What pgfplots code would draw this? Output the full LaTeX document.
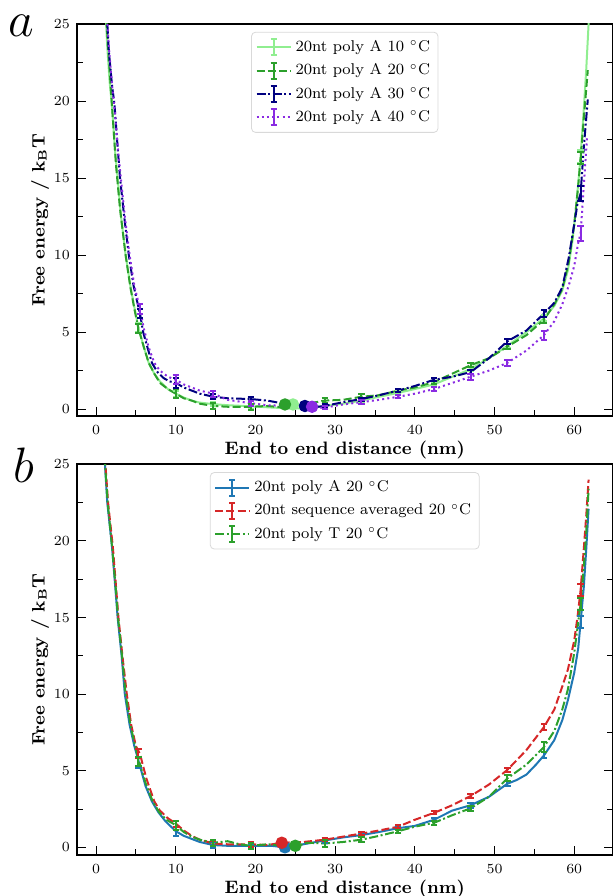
\documentclass[border=0pt]{standalone}
\usepackage{pgfplots}
\pgfplotsset{compat=1.18}

\definecolor{lgreen}{HTML}{90EE90}
\definecolor{tgreen}{HTML}{2CA02C}
\definecolor{tblue}{HTML}{1F77B4}
\definecolor{tred}{HTML}{D62728}
\definecolor{navy}{HTML}{000080}
\definecolor{bviolet}{HTML}{8A2BE2}

\pgfplotsset{
  fe/.style={
    scale only axis, width=267.75pt,
    xmin=-2.4, xmax=64.8, ymax=25,
    xtick={0,10,...,60}, minor xtick={5,15,...,55},
    ytick={0,5,...,25}, minor ytick={2.5,7.5,...,22.5},
    xtick pos=left, ytick pos=both,
    tick align=inside,
    major tick length=4.5pt, minor tick length=3pt,
    every tick/.style={black, line width=0.5pt},
    axis line style={line width=1pt},
    tick label style={font=\fontsize{6.7}{8}\selectfont},
    xticklabel style={yshift=-1pt},
    label style={font=\fontsize{9}{11}\selectfont\bfseries},
    xlabel={End to end distance (nm)},
    ylabel={Free energy / k\textsubscript{B}T},
    xlabel style={at={(axis description cs:0.5,-0.087)}, anchor=center},
    ylabel style={at={(axis description cs:-0.069,0.5)}, anchor=center},
    legend style={at={(0.5,0.98)}, anchor=north, draw=black!15, rounded corners=2pt,
      font=\fontsize{7.8}{9}\selectfont, row sep=0.6pt, inner sep=2pt},
    legend cell align=left,
    every axis plot/.append style={line width=1pt, line join=round},
  },
  ebleg/.style={legend image code/.code={
    \draw[##1] (0pt,0pt) -- (17pt,0pt);
    \draw[##1,solid] (8.5pt,-4pt) -- (8.5pt,4pt);
    \draw[##1,solid] (7pt,4pt) -- (10pt,4pt);
    \draw[##1,solid] (7pt,-4pt) -- (10pt,-4pt);}},
  eb/.style={forget plot, draw=none, mark=none,
    error bars/.cd, y dir=both, y explicit,
    error bar style={draw=#1, solid, line width=1pt},
    error mark options={draw=#1, rotate=90, mark size=1.6pt, solid, line width=1pt}},
  mdash/.style={dash pattern=on 4pt off 1.6pt},
  mdashdot/.style={dash pattern=on 4.5pt off 1.3pt on 1pt off 1.3pt},
  mdot/.style={dash pattern=on 1pt off 1.6pt},
}

\begin{document}
\begin{tikzpicture}
\useasboundingbox (0,0) rectangle (306.5pt,448pt);

\node[anchor=base west, inner sep=0pt, font=\fontsize{27}{30}\selectfont] at (4pt,429.5pt) {$a$};
\node[anchor=base west, inner sep=0pt, font=\fontsize{27}{30}\selectfont] at (6.5pt,206.5pt) {$b$};

% ---------------- panel a ----------------
\begin{axis}[fe, at={(38.5pt,240pt)}, anchor=south west, height=196pt, ymin=-0.45]
\addplot[lgreen, solid, ebleg] table {
x y
1.15 26
1.4 23.5
1.7 21.2
2.0 19.6
2.4 16.6
2.7 15.0
3.1 12.6
3.7 10.0
4.3 8.0
4.8 6.6
5.3 5.3
6.0 4.0
6.6 3.0
7.3 2.3
8.0 1.8
9.0 1.3
10.0 1.0
11.0 0.75
12.0 0.55
13.0 0.42
14.7 0.32
16.5 0.25
19.4 0.18
22.0 0.1
24.1 0.05
26.0 0.05
28.7 0.2
31.0 0.35
33.3 0.55
35.5 0.8
37.9 1.05
40.0 1.3
42.4 1.6
44.7 2.1
47.0 2.6
49.3 3.3
51.6 4.1
54.0 5.0
56.2 5.9
57.5 6.7
58.5 7.7
59.2 9.0
59.8 11.0
60.3 13.5
60.8 16.4
61.2 19.5
61.5 22.0
61.8 25.0
61.9 26
};
\addlegendentry{20nt poly A 10 $^{\circ}$C}
\addplot[tgreen, mdash, ebleg] table {
x y
1.2 26
1.5 23.5
2.0 19.6
2.5 15.8
3.0 13.0
3.7 10.0
4.3 7.9
4.8 6.5
5.3 5.25
6.0 4.0
6.6 3.0
7.3 2.3
8.0 1.7
9.0 1.3
10.0 1.0
11.0 0.7
12.0 0.55
13.0 0.35
14.7 0.2
16.5 0.15
19.4 0.15
21.5 0.2
23.7 0.1
25.0 0.1
26.0 0.3
28.7 0.55
31.0 0.6
33.3 0.8
35.5 0.9
37.9 1.2
40.0 1.4
42.4 1.75
44.7 2.3
47.0 2.85
49.3 3.3
51.6 4.05
54.0 4.8
56.2 5.8
57.5 6.8
58.5 7.8
59.3 9.5
60.0 12.0
60.5 14.5
60.8 16.3
61.3 19.5
61.7 22.0
};
\addlegendentry{20nt poly A 20 $^{\circ}$C}
\addplot[navy, mdashdot, ebleg] table {
x y
1.3 26
1.6 23.2
2.0 21.0
2.3 19.8
2.7 17.0
3.0 15.0
3.5 12.6
4.1 10.0
4.7 8.0
5.5 6.2
5.9 5.0
6.5 3.9
7.0 3.0
7.7 2.4
8.5 2.0
9.2 1.8
10.0 1.7
11.0 1.4
12.0 1.2
13.0 1.0
14.7 0.8
16.5 0.7
19.4 0.65
21.5 0.55
24.1 0.3
26.2 0.05
28.7 0.2
31.0 0.45
33.3 0.65
35.5 0.9
37.9 1.2
40.0 1.5
42.4 1.9
44.7 2.1
47.0 2.4
49.3 3.3
51.6 4.4
54.0 5.1
56.2 6.2
57.5 6.9
58.5 7.9
59.3 9.8
60.0 12.0
60.4 13.3
60.8 14.0
61.2 17.0
61.7 20.1
};
\addlegendentry{20nt poly A 30 $^{\circ}$C}
\addplot[bviolet, mdot, ebleg] table {
x y
1.3 26
1.6 23.5
2.0 21.0
2.4 19.0
2.8 16.5
3.1 15.0
3.6 12.5
4.2 10.0
4.8 8.0
5.5 6.5
6.0 5.2
6.6 4.0
7.3 3.0
8.0 2.5
9.0 2.1
10.0 1.9
11.0 1.6
12.0 1.4
13.0 1.2
14.7 1.0
16.5 0.6
19.4 0.38
21.5 0.25
24.1 0.2
27.1 0.05
28.7 0.1
31.0 0.3
33.3 0.45
35.5 0.6
37.9 0.8
40.0 1.0
42.4 1.3
44.7 1.7
47.0 2.1
49.3 2.5
51.6 3.0
54.0 3.8
56.2 4.8
57.5 5.7
58.5 6.8
59.3 8.0
60.0 9.3
60.5 10.8
60.8 11.4
61.2 14.5
61.6 17.6
};
\addlegendentry{20nt poly A 40 $^{\circ}$C}

\addplot[eb=lgreen] coordinates {
(5.3,5.3) +- (0,0.3) (10,1.0) +- (0,0.2) (14.7,0.32) +- (0,0.15) (19.4,0.18) +- (0,0.15)
(28.7,0.2) +- (0,0.1) (33.3,0.55) +- (0,0.1) (37.9,1.05) +- (0,0.1) (42.4,1.6) +- (0,0.1)
(47.0,2.6) +- (0,0.15) (51.6,4.1) +- (0,0.15) (56.2,5.9) +- (0,0.2) (60.8,16.4) +- (0,0.4)};
\addplot[eb=tgreen] coordinates {
(5.3,5.25) +- (0,0.3) (10,1.0) +- (0,0.3) (14.7,0.2) +- (0,0.2) (19.4,0.15) +- (0,0.2)
(28.7,0.55) +- (0,0.15) (33.3,0.8) +- (0,0.15) (37.9,1.2) +- (0,0.1) (42.4,1.75) +- (0,0.1)
(47.0,2.85) +- (0,0.15) (51.6,4.05) +- (0,0.15) (56.2,5.8) +- (0,0.2) (60.8,16.3) +- (0,0.4)};
\addplot[eb=navy] coordinates {
(5.5,6.2) +- (0,0.3) (10,1.7) +- (0,0.3) (14.7,0.8) +- (0,0.15) (19.4,0.65) +- (0,0.15)
(28.7,0.2) +- (0,0.1) (33.3,0.65) +- (0,0.1) (37.9,1.2) +- (0,0.1) (42.4,1.9) +- (0,0.1)
(47.0,2.4) +- (0,0.15) (51.6,4.4) +- (0,0.15) (56.2,6.2) +- (0,0.2) (60.8,14.0) +- (0,0.5)};
\addplot[eb=bviolet] coordinates {
(5.5,6.5) +- (0,0.3) (10,1.9) +- (0,0.3) (14.7,1.0) +- (0,0.2) (19.4,0.38) +- (0,0.15)
(28.7,0.1) +- (0,0.1) (33.3,0.45) +- (0,0.15) (37.9,0.8) +- (0,0.1) (42.4,1.3) +- (0,0.15)
(47.0,2.1) +- (0,0.2) (51.6,3.0) +- (0,0.2) (56.2,4.8) +- (0,0.3) (60.8,11.4) +- (0,0.5)};

\addplot[forget plot, only marks, mark=*, mark size=2.6pt, lgreen] coordinates {(24.7,0.3)};
\addplot[forget plot, only marks, mark=*, mark size=2.6pt, tgreen] coordinates {(23.7,0.3)};
\addplot[forget plot, only marks, mark=*, mark size=2.6pt, navy] coordinates {(26.2,0.2)};
\addplot[forget plot, only marks, mark=*, mark size=2.6pt, bviolet] coordinates {(27.1,0.15)};
\end{axis}

% ---------------- panel b ----------------
\begin{axis}[fe, at={(38.5pt,20.5pt)}, anchor=south west, height=195.35pt, ymin=-0.5]
\addplot[tblue, solid, ebleg] table {
x y
1.05 25.5
1.4 22.5
2.0 19.6
2.4 17.0
2.7 15.0
3.2 12.5
3.6 10.0
4.2 8.0
4.8 6.6
5.4 5.5
6.2 4.0
7.0 3.0
7.8 2.3
8.7 1.7
10.0 1.05
11.0 0.75
12.0 0.55
13.0 0.35
14.7 0.15
16.5 0.1
19.4 0.1
22.0 0.1
23.7 0.0
26.0 0.2
28.7 0.45
31.0 0.65
33.3 0.8
35.5 1.0
37.9 1.25
40.0 1.4
42.4 1.8
44.7 2.4
47.0 2.75
49.3 3.3
51.6 4.15
52.8 4.4
54.0 4.75
55.2 5.4
56.2 6.0
57.5 7.0
58.5 8.3
59.2 9.6
60.0 11.4
60.5 13.0
60.8 14.7
61.2 17.0
61.5 19.4
61.8 22.1
};
\addlegendentry{20nt poly A 20 $^{\circ}$C}
\addplot[tred, mdash, ebleg] table {
x y
1.1 25.5
1.5 22.5
2.1 19.6
2.5 17.0
2.8 15.0
3.3 12.5
3.85 10.0
4.4 8.0
5.0 6.6
5.5 6.1
6.3 4.5
7.3 3.0
8.0 2.4
9.0 1.9
10.0 1.55
11.0 1.1
12.0 0.75
13.0 0.5
14.7 0.25
16.5 0.2
19.4 0.2
21.5 0.15
23.3 0.3
26.0 0.35
28.7 0.5
31.0 0.7
33.3 0.9
35.5 1.1
37.9 1.35
40.0 1.8
42.4 2.25
44.7 2.75
47.0 3.35
49.3 4.1
51.6 5.05
54.0 6.35
56.2 7.85
57.5 9.0
58.5 10.5
59.2 11.6
60.0 13.5
60.4 15.0
60.8 16.8
61.2 19.5
61.5 21.6
61.8 24.0
};
\addlegendentry{20nt sequence averaged 20 $^{\circ}$C}
\addplot[tgreen, mdashdot, ebleg] table {
x y
1.05 25.5
1.45 22.5
2.0 19.6
2.45 17.0
2.75 15.0
3.25 12.5
3.7 10.0
4.3 8.0
4.9 6.6
5.4 5.6
6.2 4.2
7.1 3.0
7.9 2.3
8.8 1.8
10.0 1.45
11.0 1.0
12.0 0.7
13.0 0.5
14.7 0.3
16.5 0.4
18.0 0.2
19.4 0.1
21.5 0.2
25.0 0.05
26.5 0.3
28.7 0.25
31.0 0.35
33.3 0.5
35.5 0.75
37.9 1.05
40.0 1.35
42.4 1.6
44.7 2.1
47.0 2.55
49.3 3.3
51.6 4.5
54.0 5.4
56.2 6.55
57.5 7.6
58.5 9.0
59.2 10.3
60.0 12.7
60.4 14.3
60.8 15.9
61.2 18.3
61.5 20.5
61.8 23.4
};
\addlegendentry{20nt poly T 20 $^{\circ}$C}

\addplot[eb=tblue] coordinates {
(5.3,5.5) +- (0,0.3) (10,1.05) +- (0,0.3) (14.7,0.15) +- (0,0.2) (19.4,0.1) +- (0,0.15)
(28.7,0.45) +- (0,0.15) (33.3,0.8) +- (0,0.1) (37.9,1.25) +- (0,0.1) (42.4,1.8) +- (0,0.1)
(47.0,2.75) +- (0,0.15) (51.6,4.15) +- (0,0.15) (56.2,6.0) +- (0,0.2) (60.8,14.7) +- (0,0.4)};
\addplot[eb=tred] coordinates {
(5.3,6.1) +- (0,0.3) (10,1.55) +- (0,0.2) (14.7,0.25) +- (0,0.15) (19.4,0.2) +- (0,0.15)
(28.7,0.5) +- (0,0.1) (33.3,0.9) +- (0,0.1) (37.9,1.35) +- (0,0.1) (42.4,2.25) +- (0,0.1)
(47.0,3.35) +- (0,0.15) (51.6,5.05) +- (0,0.15) (56.2,7.85) +- (0,0.2) (60.8,16.8) +- (0,0.4)};
\addplot[eb=tgreen] coordinates {
(5.3,5.6) +- (0,0.3) (10,1.45) +- (0,0.3) (14.7,0.3) +- (0,0.2) (19.4,0.1) +- (0,0.2)
(28.7,0.25) +- (0,0.2) (33.3,0.5) +- (0,0.15) (37.9,1.05) +- (0,0.1) (42.4,1.6) +- (0,0.15)
(47.0,2.55) +- (0,0.15) (51.6,4.5) +- (0,0.2) (56.2,6.55) +- (0,0.3) (60.8,15.9) +- (0,0.4)};

\addplot[forget plot, only marks, mark=*, mark size=2.6pt, tblue] coordinates {(23.7,0.0)};
\addplot[forget plot, only marks, mark=*, mark size=2.6pt, tred] coordinates {(23.3,0.3)};
\addplot[forget plot, only marks, mark=*, mark size=2.6pt, tgreen] coordinates {(25.0,0.1)};
\end{axis}
\end{tikzpicture}
\end{document}
